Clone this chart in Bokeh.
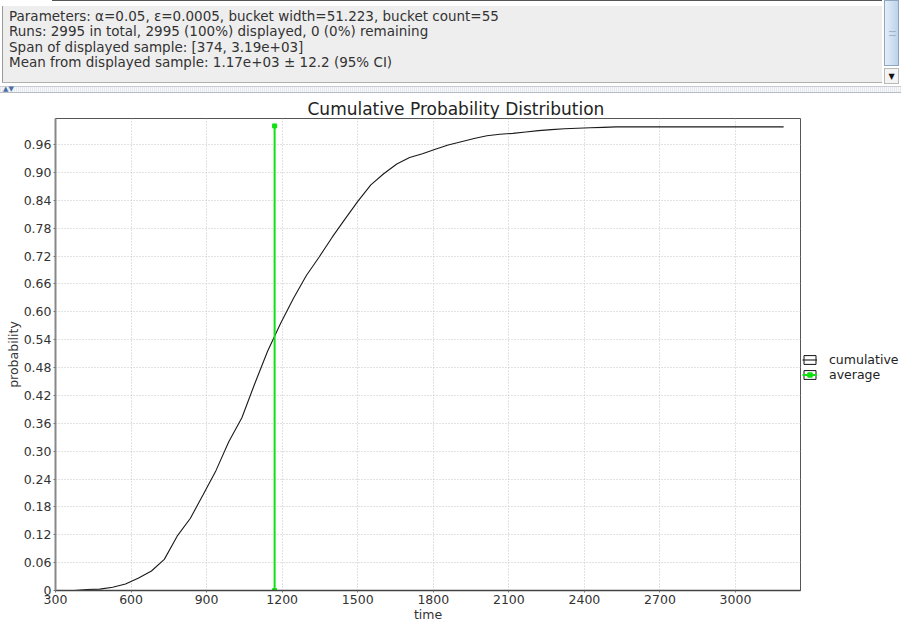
from bokeh.plotting import figure
from bokeh.models import Div, FixedTicker, Legend, LegendItem, Range1d
from bokeh.layouts import column, row
from bokeh.embed import file_html
from bokeh.resources import INLINE

# ---- data ----
times = [374, 425, 476, 527, 578, 630, 681, 732, 783, 835, 886, 937, 988, 1040,
         1091, 1142, 1193, 1245, 1296, 1347, 1398, 1450, 1501, 1552, 1603, 1655,
         1706, 1757, 1808, 1859, 1911, 1962, 2013, 2064, 2116, 2167, 2218, 2269,
         2321, 2372, 2423, 2474, 2526, 3191]
cumulative = [0.000, 0.002, 0.003, 0.007, 0.014, 0.027, 0.042, 0.067, 0.117, 0.155,
              0.206, 0.258, 0.320, 0.372, 0.445, 0.515, 0.574, 0.629, 0.678, 0.718,
              0.760, 0.800, 0.838, 0.873, 0.897, 0.918, 0.932, 0.940, 0.950, 0.959,
              0.966, 0.973, 0.979, 0.982, 0.984, 0.987, 0.990, 0.992, 0.994, 0.995,
              0.996, 0.997, 0.998, 0.998]
avg_time = [1170, 1170]
avg_prob = [0.0, 1.0]

x_ticks = [300, 600, 900, 1200, 1500, 1800, 2100, 2400, 2700, 3000]
y_ticks = [0, 0.06, 0.12, 0.18, 0.24, 0.30, 0.36, 0.42, 0.48, 0.54, 0.60, 0.66,
           0.72, 0.78, 0.84, 0.90, 0.96]
y_tick_labels = ["0", "0.06", "0.12", "0.18", "0.24", "0.30", "0.36", "0.42", "0.48",
                 "0.54", "0.60", "0.66", "0.72", "0.78", "0.84", "0.90", "0.96"]
series_names = ["cumulative", "average"]

header_lines = [
    "Parameters: \u03b1=0.05, \u03b5=0.0005, bucket width=51.223, bucket count=55",
    "Runs: 2995 in total, 2995 (100%) displayed, 0 (0%) remaining",
    "Span of displayed sample: [374, 3.19e+03]",
    "Mean from displayed sample: 1.17e+03 \u00b1 12.2 (95% CI)",
]

FONT = "DejaVu Sans"
GREEN = "#11e011"
CURVE = "#1a1a1a"
NAN = float("nan")

# ---- header panel ----
text_html = "<br>".join(header_lines)
html = f"""
<div style="position:relative;width:901px;height:95px;background:#ffffff;font-family:'DejaVu Sans';">
  <div style="position:absolute;left:52px;top:0px;width:830px;height:1px;background:#555;"></div>
  <div style="position:absolute;left:2px;top:6px;width:880px;height:77px;background:#eeeeee;border-left:1px solid #9a9a9a;border-bottom:1px solid #b0b0b0;"></div>
  <div style="position:absolute;left:9px;top:9px;font-size:13.5px;line-height:15.4px;color:#333333;white-space:nowrap;">{text_html}</div>
  <div style="position:absolute;left:884px;top:0px;width:15px;height:66px;background:linear-gradient(to right,#e4eef8,#bcd3ea);border:1px solid #8fa6c0;"></div>
  <div style="position:absolute;left:889px;top:31px;width:7px;height:5px;border-top:1px solid #9fb4cc;border-bottom:1px solid #9fb4cc;"></div>
  <div style="position:absolute;left:884px;top:68px;width:15px;height:16px;background:#f4f4f4;border:1px solid #b8b8b8;font-size:8px;line-height:16px;text-align:center;color:#111;">&#9660;</div>
  <div style="position:absolute;left:0px;top:86px;width:901px;height:7px;background:repeating-linear-gradient(90deg,#e6e9ee 0px,#e6e9ee 1px,#f7f8fa 1px,#f7f8fa 2px);border-top:1px solid #c8ccd2;border-bottom:1px solid #b8bcc4;"></div>
  <div style="position:absolute;left:3px;top:84px;font-size:7px;color:#4a6fa8;line-height:10px;">&#9650;&#9660;</div>
</div>
"""
header = Div(text=html, width=901, height=95, margin=0)

# ---- chart ----
p = figure(width=801, height=529, x_range=Range1d(300, 3258), y_range=Range1d(0, 1.016),
           output_backend="svg", toolbar_location=None,
           min_border_left=55, min_border_right=1, min_border_top=23, min_border_bottom=32,
           title="Cumulative Probability Distribution")
p.title.text_font = FONT
p.title.text_font_size = "17px"
p.title.text_font_style = "normal"
p.title.text_color = "#222222"
p.title.align = "left"
p.title.offset = 252
p.title.standoff = 0

p.outline_line_color = "#555555"
p.outline_line_width = 1
p.background_fill_color = "white"
p.border_fill_color = "white"

p.xaxis.ticker = FixedTicker(ticks=x_ticks)
p.yaxis.ticker = FixedTicker(ticks=y_ticks)
p.yaxis.major_label_overrides = {t: l for t, l in zip(y_ticks, y_tick_labels)}
p.xaxis.axis_label = "time"
p.yaxis.axis_label = "probability"
for ax in (p.xaxis, p.yaxis):
    ax.major_label_text_font = FONT
    ax.major_label_text_font_size = "12.5px"
    ax.major_label_text_color = "#333333"
    ax.axis_label_text_font = FONT
    ax.axis_label_text_font_size = "12.5px"
    ax.axis_label_text_font_style = "normal"
    ax.axis_label_text_color = "#333333"
    ax.minor_tick_line_color = None
    ax.major_tick_out = 2
    ax.major_tick_in = 0
    ax.major_tick_line_color = "#777777"
    ax.major_label_standoff = 2
    ax.axis_label_standoff = 0
p.yaxis.axis_line_color = "#888888"
p.yaxis.axis_line_width = 2
p.xaxis.axis_line_color = "#444444"
p.xaxis.axis_line_width = 1.5

for g in (p.xgrid, p.ygrid):
    g.grid_line_color = "#c4c4c4"
    g.grid_line_dash = "1 2"
    g.grid_line_width = 1

p.line(times, cumulative, line_color=CURVE, line_width=1.1)
p.line(avg_time, avg_prob, line_color=GREEN, line_width=2)
p.scatter(avg_time, avg_prob, marker="square", size=4, color=GREEN)

# ---- legend strip to the right of the plot frame ----
lg = figure(width=100, height=529, x_range=Range1d(0, 1), y_range=Range1d(0, 1),
            output_backend="svg", toolbar_location=None, x_axis_type=None, y_axis_type=None,
            min_border_left=0, min_border_right=0, min_border_top=0, min_border_bottom=0)
lg.outline_line_color = None
lg.grid.visible = False
lg.background_fill_color = "white"
lg.border_fill_color = "white"
# legend-only swatches (no data inside the strip)
box = lg.rect(x=[NAN], y=[NAN], width=1, height=1, fill_color="white", line_color="#111111")
sw_cum = lg.line([NAN, NAN], [NAN, NAN], line_color=CURVE, line_width=1.1)
sw_avg = lg.line([NAN, NAN], [NAN, NAN], line_color=GREEN, line_width=2)
sw_pt = lg.scatter([NAN], [NAN], marker="square", size=4, color=GREEN)

legend = Legend(items=[
    LegendItem(label=series_names[0], renderers=[box, sw_cum]),
    LegendItem(label=series_names[1], renderers=[box, sw_avg, sw_pt]),
], location=(1, 208), glyph_width=15, glyph_height=11, label_height=10, spacing=0,
   padding=1, margin=0, label_standoff=12, border_line_color=None,
   background_fill_alpha=0, label_text_font=FONT, label_text_font_size="12.5px",
   label_text_color="#222222")
lg.add_layout(legend)

layout = column(header, row(p, lg, spacing=0), spacing=0)
open("out.html", "w").write(file_html(layout, INLINE))
